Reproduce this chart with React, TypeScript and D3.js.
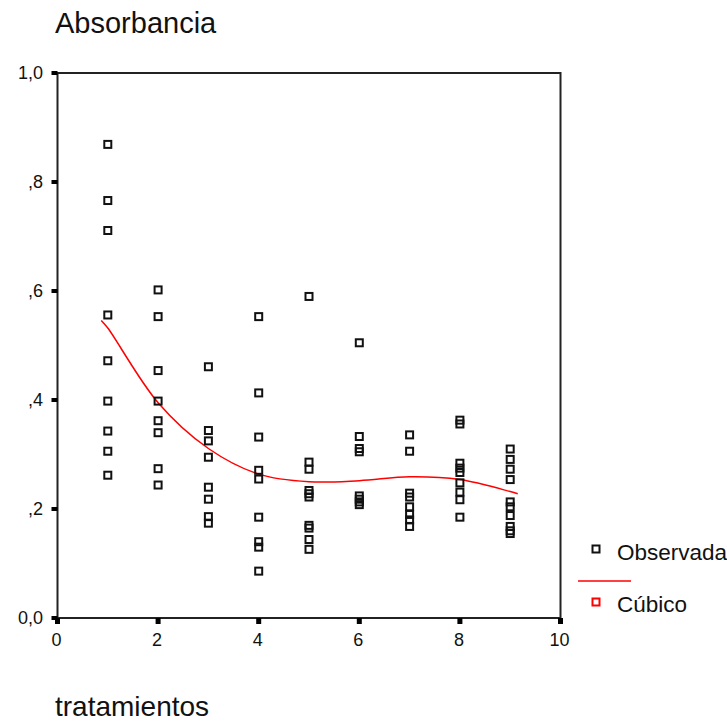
import React from "react";
import * as d3 from "d3";

// treatment groups (x) and observed absorbance per group
const treatments = [1, 2, 3, 4, 5, 6, 7, 8, 9];
const t1 = [0.869, 0.766, 0.711, 0.556, 0.472, 0.398, 0.343, 0.306, 0.262];
const t2 = [0.602, 0.553, 0.454, 0.398, 0.362, 0.34, 0.274, 0.244];
const t3 = [0.461, 0.344, 0.325, 0.295, 0.24, 0.218, 0.186, 0.174];
const t4 = [0.553, 0.413, 0.332, 0.271, 0.255, 0.185, 0.14, 0.13, 0.086];
const t5 = [0.59, 0.286, 0.273, 0.234, 0.228, 0.222, 0.17, 0.165, 0.144, 0.126];
const t6 = [0.505, 0.333, 0.311, 0.305, 0.224, 0.218, 0.213, 0.208];
const t7 = [0.336, 0.306, 0.229, 0.222, 0.204, 0.19, 0.18, 0.168];
const t8 = [0.363, 0.356, 0.284, 0.275, 0.267, 0.248, 0.231, 0.217, 0.185];
const t9 = [0.31, 0.291, 0.273, 0.254, 0.213, 0.204, 0.188, 0.168, 0.16, 0.155];
const observed = [t1, t2, t3, t4, t5, t6, t7, t8, t9];

// cubic fit line
const fitX = [0.87, 1, 2, 3, 4, 5, 6, 7, 8, 9, 9.15];
const fitY = [0.546, 0.532, 0.395, 0.311, 0.264, 0.25, 0.252, 0.259, 0.254, 0.232, 0.228];

const xTicks = [0, 2, 4, 6, 8, 10];
const yTicks = [0, 0.2, 0.4, 0.6, 0.8, 1.0];
const yTickLabels = ["0,0", ",2", ",4", ",6", ",8", "1,0"];

const W = 727;
const H = 721;
const font = "'Liberation Sans', Arial, sans-serif";

export default function App() {
  const x = d3.scaleLinear().domain([0, 10]).range([57.5, 560.5]);
  const y = d3.scaleLinear().domain([0, 1]).range([618, 73]);

  const points = observed.flatMap((vals, i) => vals.map(v => ({ t: treatments[i], v })));

  const line = d3.line<number>()
    .x((_, i) => x(fitX[i]))
    .y(d => y(d))
    .curve(d3.curveCatmullRom);

  const axisColor = "#222";
  const s = 7;

  return (
    <svg width={W} height={H} style={{ position: "absolute", left: 0, top: 0, background: "#fff" }} fontFamily={font}>
      <text x={55} y={33} fontSize={29} fill="#111">Absorbancia</text>
      <text x={55} y={716} fontSize={28} fill="#111">tratamientos</text>

      {/* frame */}
      <rect x={x(0)} y={y(1)} width={x(10) - x(0)} height={y(0) - y(1)} fill="none" stroke={axisColor} strokeWidth={2} />

      {/* y ticks */}
      {yTicks.map((t, i) => (
        <g key={"y" + t}>
          <rect x={x(0) - 6} y={y(t) - 2} width={6} height={4} fill="#000" />
          <text x={43} y={y(t)} dy="0.36em" textAnchor="end" fontSize={18} fill="#111">{yTickLabels[i]}</text>
        </g>
      ))}

      {/* x ticks */}
      {xTicks.map(t => (
        <g key={"x" + t}>
          <rect x={x(t) - 2.5} y={y(0)} width={5} height={6} fill="#000" />
          <text x={x(t) - 1} y={646} textAnchor="middle" fontSize={18} fill="#111">{t}</text>
        </g>
      ))}

      {/* fitted cubic */}
      <path d={line(fitY) || ""} fill="none" stroke="#ff0000" strokeWidth={1.5} />

      {/* observed points */}
      {points.map((p, i) => (
        <rect key={i} x={x(p.t) - s / 2} y={y(p.v) - s / 2} width={s} height={s}
          fill="none" stroke="#111" strokeWidth={2} />
      ))}

      {/* legend */}
      <rect x={596 - s / 2} y={549 - s / 2} width={s} height={s} fill="none" stroke="#111" strokeWidth={2} />
      <text x={617} y={560} fontSize={22.5} fill="#111">Observada</text>
      <line x1={578} x2={631} y1={581} y2={581} stroke="#ff0000" strokeWidth={1.5} />
      <rect x={596 - s / 2} y={602 - s / 2} width={s} height={s} fill="none" stroke="#ff0000" strokeWidth={2} />
      <text x={617} y={612} fontSize={22.5} fill="#111">Cúbico</text>
    </svg>
  );
}
